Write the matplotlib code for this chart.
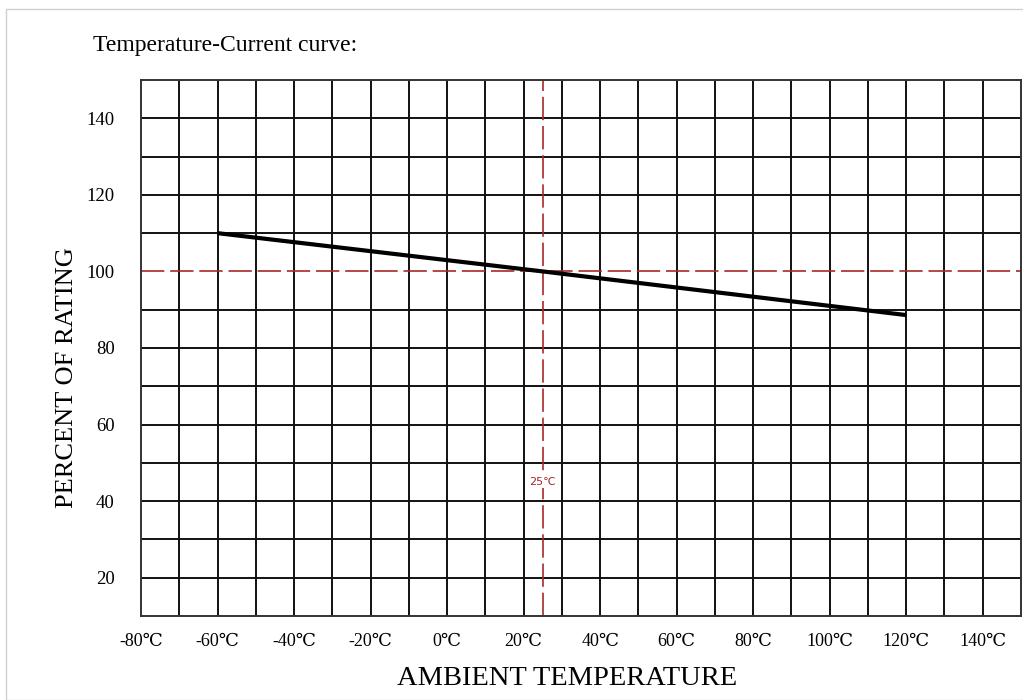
import matplotlib.pyplot as plt
from matplotlib.patches import Rectangle

# curve
temps = [-60, 25, 120]
rating = [110, 100, 88.6]

x_ticks = [-80, -60, -40, -20, 0, 20, 40, 60, 80, 100, 120, 140]
x_labels = [f"{t}℃" for t in x_ticks]
y_ticks = [20, 40, 60, 80, 100, 120, 140]

ref_temp = 25
ref_rating = 100

serif = ['Liberation Serif', 'DejaVu Serif', 'DejaVu Sans']
red = '#a52a2a'

fig = plt.figure(figsize=(10.23, 7), dpi=100)
ax = fig.add_axes([141 / 1023, 1 - 616 / 700, 880 / 1023, 536 / 700])

ax.set_xlim(-80, 150)
ax.set_ylim(10, 150)

# grid every 10 units; the 100 % line is drawn as the red reference instead
for gx in range(-70, 150, 10):
    ax.axvline(gx, color='#111111', lw=1.4, zorder=1)
for gy in range(20, 150, 10):
    if gy != ref_rating:
        ax.axhline(gy, color='#111111', lw=1.4, zorder=1)
for s in ax.spines.values():
    s.set_color('#333333')
    s.set_linewidth(1.4)

ax.axvline(ref_temp, color=red, lw=1.2, dashes=(14, 3.5), zorder=2)
ax.axhline(ref_rating, color=red, lw=1.2, dashes=(14, 3.5), zorder=2)
ax.text(ref_temp, 45, "25℃", color=red, fontsize=8, ha='center', va='center',
        family=['DejaVu Sans'], bbox=dict(fc='white', ec='none', pad=1), zorder=3)

ax.plot(temps, rating, color='black', lw=3, solid_capstyle='butt', zorder=4)

ax.set_xticks(x_ticks)
ax.set_xticklabels(x_labels, family=serif, fontsize=13)
ax.set_yticks(y_ticks)
ax.set_yticklabels([str(v) for v in y_ticks], family=serif, fontsize=13.5)
ax.tick_params(axis='both', length=0)
ax.tick_params(axis='x', pad=12)
ax.tick_params(axis='y', pad=19)

ax.set_xlabel("AMBIENT TEMPERATURE", family=serif, fontsize=20.5, va='center')
ax.xaxis.set_label_coords(0.484, -0.116)
ax.set_ylabel("PERCENT OF RATING", family=serif, fontsize=19, va='center')
ax.yaxis.set_label_coords(-0.084, 0.444)

fig.text(93 / 1023, 1 - 45 / 700, "Temperature-Current curve:", family=serif,
         fontsize=17, va='center', ha='left')

fig.patches.append(Rectangle((6 / 1023, 0), 1.2, 1 - 9 / 700, transform=fig.transFigure,
                             fill=False, ec='#d0d0d0', lw=1))

fig.savefig("out.png", dpi=100)
